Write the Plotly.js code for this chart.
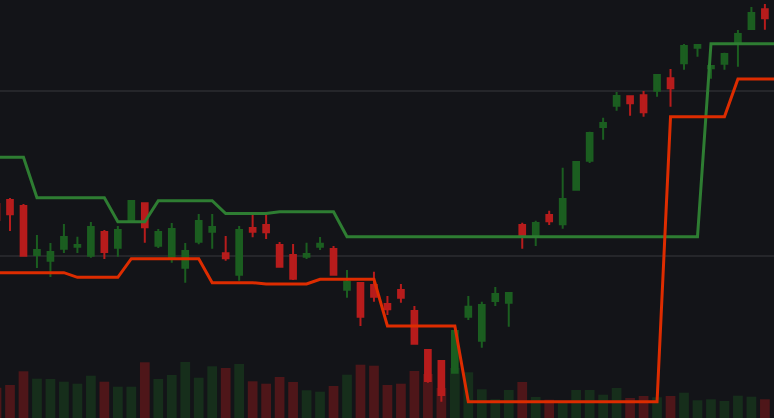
<!DOCTYPE html>
<html><head><meta charset="utf-8">
<script src="https://cdn.plot.ly/plotly-3.0.1.min.js"></script>
<style>html,body{margin:0;padding:0;background:#131418;overflow:hidden}#chart{width:774px;height:418px}</style>
</head><body><div id="chart"></div>
<script>
const open  = [214,218,212,163,157.3,169.3,171.3,162.3,186,170.3,196.3,214.7,172.3,161.3,150.3,176.3,186.3,164.7,143.3,190,193,173,163,161.3,171.3,169,128.3,135,133,114,128,107,68,57,45.3,101.3,77.3,117,115.3,193,182,203,193.7,228.3,257.3,291,312.3,321.7,322.7,327.3,339.7,354.7,370.3,349.7,354.3,375.7,389,408.7];
const high  = [220,220,214,183,175,194,181.3,196,188,192,217,215,189,195,175,204,204,182,192,203,203,176,174,175.3,181,172,148,135,146.3,122,134,112,68,57,87,122,116.3,131,126,195.3,197.3,207.3,250.3,256,286.3,300.3,326,321.7,327,344,349,374,373,352,365.3,388,411,414];
const low   = [190,187,161.3,150,141,165,165,160.3,159,161.3,196.3,175.3,170,155.3,135.3,173.7,169.3,157.3,137.3,180.7,179,151.3,138,159,168,143.3,120.3,92,116.3,103,115.3,74.3,35.3,16.3,45.3,98,70.3,112,91.3,169.3,172,193,189.3,228.3,255,278.3,307.3,302.3,301.3,321.3,311.3,348.3,361.3,339.3,348.3,351.3,388,388.3];
const close = [198,203.7,162.3,168,166,181,173,191,166,188,217,190.7,186,189,167,197,191,159.7,188,186.3,185.7,151.3,139.3,164,174.3,143.3,136.3,101.3,121.3,108.7,120.3,74.3,37,23,87,111.3,113,124,125,182,195,196.7,219,256,285,295,322,314.7,305.7,343,329.7,372,373,352,364,384,405,399.7];
const volume = [30.3,33,46.7,39.3,39,36.3,34.3,42.3,36.3,31.3,31.3,55.7,39,43,56,40.3,51.7,50,54,36.7,34.3,41,36,27.7,26.3,32,43.3,53.3,52.3,33,34.3,47,44,30,50,45.7,28.7,18.7,28,36,21,18.3,16,28,28,23.3,30,20,22,20.7,22,25.3,17.7,18.7,17,22.3,21.3,18.7];
// band values per bar, plus one more bar beyond the right edge
const upperBand = [260.7,260.7,260.7,220.3,220.3,220.3,220.3,220.3,220.3,196.3,196.3,196.3,217.3,217.3,217.3,217.3,217.3,204.5,204.5,204.5,204.5,206.3,206.3,206.3,206.3,206.3,181.3,181.3,181.3,181.3,181.3,181.3,181.3,181.3,181.3,181.3,181.3,181.3,181.3,181.3,181.3,181.3,181.3,181.3,181.3,181.3,181.3,181.3,181.3,181.3,181.3,181.3,181.3,374.3,374.3,374.3,374.3,374.3,374.3];
const lowerBand = [145.3,145.3,145.3,145.3,145.3,145.3,140.7,140.7,140.7,140.7,159.3,159.3,159.3,159.3,159.3,159.3,135.3,135.3,135.3,135.3,134,134,134,134,138.7,138.7,138.7,138.7,138.7,92,92,92,92,92,92,16.3,16.3,16.3,16.3,16.3,16.3,16.3,16.3,16.3,16.3,16.3,16.3,16.3,16.3,16.3,301.3,301.3,301.3,301.3,301.3,339,339,339,339];

const bars = open.map((_, i) => i);
const bandBars = upperBand.map((_, i) => i);
const volColors = close.map((c, i) => c >= open[i] ? 'rgba(27,94,32,0.36)' : 'rgba(183,28,28,0.36)');

const traces = [
  {type:'bar', x:bars, y:volume, xaxis:'x', yaxis:'y', marker:{color:volColors, line:{width:0}}, hoverinfo:'skip'},
  {type:'candlestick', x:bars, open:open, high:high, low:low, close:close, xaxis:'x', yaxis:'y2',
   whiskerwidth:0,
   increasing:{line:{color:'#1b5e20', width:2}, fillcolor:'#1b5e20'},
   decreasing:{line:{color:'#b71c1c', width:2}, fillcolor:'#b71c1c'}},
  {type:'scatter', mode:'lines', x:bandBars, y:upperBand, xaxis:'x', yaxis:'y2', line:{color:'#2e7d32', width:3}},
  {type:'scatter', mode:'lines', x:bandBars, y:lowerBand, xaxis:'x', yaxis:'y2', line:{color:'#dd2c00', width:3}}
];

const layout = {
  width:774, height:418,
  margin:{l:0, r:0, t:0, b:0, pad:0},
  paper_bgcolor:'#131418', plot_bgcolor:'#131418',
  showlegend:false, bargap:0.28, boxgap:0.4,
  xaxis:{range:[0.258, 57.676], showgrid:false, zeroline:false, showticklabels:false, ticks:'', showline:false, rangeslider:{visible:false}},
  yaxis:{range:[0, 418], showgrid:false, zeroline:false, showticklabels:false, ticks:'', showline:false},
  yaxis2:{overlaying:'y', side:'left', range:[0, 418], tick0:162, dtick:165, showgrid:true, gridcolor:'#25262a', gridwidth:1.5, zeroline:false, showticklabels:false, ticks:'', showline:false}
};

Plotly.newPlot('chart', traces, layout, {staticPlot:true, displayModeBar:false});
</script>
</body></html>
